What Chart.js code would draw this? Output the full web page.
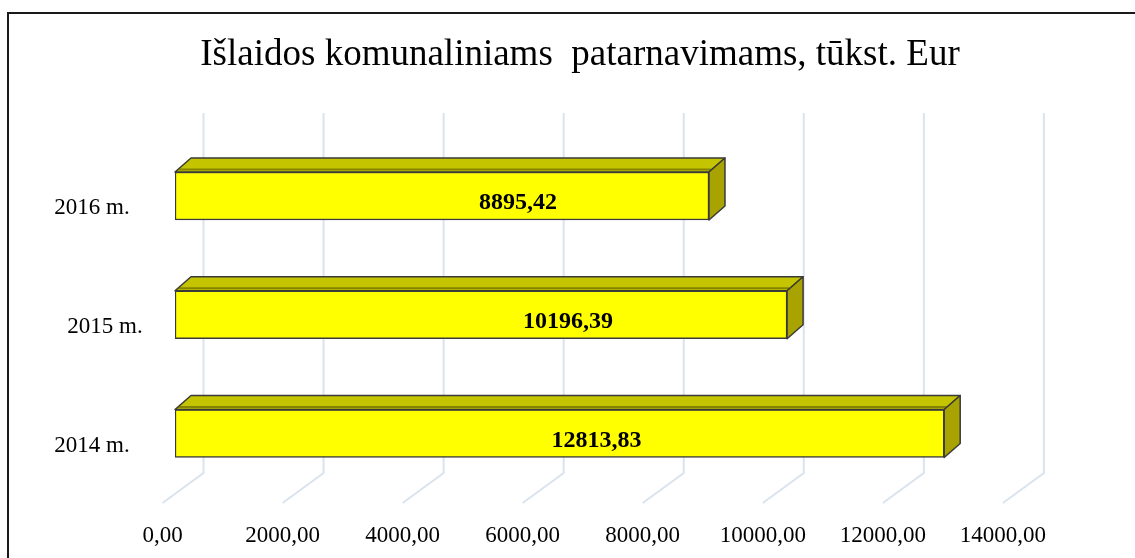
<!DOCTYPE html>
<html><head><meta charset="utf-8">
<script src="https://cdn.jsdelivr.net/npm/chart.js@4.4.0/dist/chart.umd.min.js"></script>
<style>html,body{margin:0;padding:0;background:#fff;overflow:hidden}#wrap{width:1135px;height:558px;position:relative}canvas{display:block}</style>
</head><body><div id="wrap"><canvas id="c" width="1135" height="558"></canvas></div>
<script>
// ---- data ----
const categories = ['2014 m.', '2015 m.', '2016 m.'];
const values = [12813.83, 10196.39, 8895.42];
const tickValues = [0, 2000, 4000, 6000, 8000, 10000, 12000, 14000];
const titleText = 'Išlaidos komunaliniams  patarnavimams, tūkst. Eur';

// ---- style ----
const SERIF = "'Times New Roman', 'Liberation Serif', serif";
const DEPTH_DX = 16, DEPTH_DY = 14;          // bar depth
const GRID_BACK = 28.5, GRID_FRONT = -12.5;  // floor back/front offsets
const GRID_TOP = 113, GRID_BEND = 473, GRID_BOTTOM = 503;
const labelDx = [37, 87, 76];     // data label shift per bar
const catDx = [0, 13, 0];         // category label shift

function fmt(v){ return v.toFixed(2).replace('.', ','); }

const deco = {
  id: 'deco',
  beforeDatasetsDraw(chart){
    const ctx = chart.ctx, xs = chart.scales.x;
    ctx.save();
    ctx.fillStyle = '#fff';
    ctx.fillRect(0,0,chart.width,chart.height);
    // frame
    ctx.strokeStyle = '#1a1a1a'; ctx.lineWidth = 2;
    ctx.beginPath();
    ctx.moveTo(8, chart.height + 5); ctx.lineTo(8, 13); ctx.lineTo(chart.width + 5, 13);
    ctx.stroke();
    // title
    ctx.fillStyle = '#000';
    ctx.font = '37px ' + SERIF;
    ctx.textAlign = 'center'; ctx.textBaseline = 'alphabetic';
    ctx.fillText(titleText, 580, 65);
    // gridlines
    ctx.strokeStyle = '#dae3ee'; ctx.lineWidth = 2;
    tickValues.forEach(v => {
      const x0 = xs.getPixelForValue(v);
      ctx.beginPath();
      ctx.moveTo(x0 + GRID_BACK, GRID_TOP);
      ctx.lineTo(x0 + GRID_BACK, GRID_BEND);
      ctx.lineTo(x0 + GRID_FRONT, GRID_BOTTOM);
      ctx.stroke();
    });
    // tick labels
    ctx.fillStyle = '#000';
    ctx.font = '23px ' + SERIF;
    ctx.textAlign = 'center'; ctx.textBaseline = 'middle';
    tickValues.forEach(v => {
      const x0 = xs.getPixelForValue(v);
      ctx.fillText(fmt(v), x0 + GRID_FRONT, 536);
    });
    ctx.restore();
  },
  afterDatasetsDraw(chart){
    const ctx = chart.ctx, ys = chart.scales.y;
    const meta = chart.getDatasetMeta(0);
    ctx.save();
    meta.data.forEach((bar, i) => {
      const p = bar.getProps(['x','y','base','height'], true);
      const L = p.base, R = p.x, T = p.y - p.height/2, B = p.y + p.height/2;
      ctx.lineJoin = 'round';
      // top face
      ctx.beginPath();
      ctx.moveTo(L, T); ctx.lineTo(L + DEPTH_DX, T - DEPTH_DY);
      ctx.lineTo(R + DEPTH_DX, T - DEPTH_DY); ctx.lineTo(R, T); ctx.closePath();
      ctx.fillStyle = '#c4c400'; ctx.fill();
      ctx.strokeStyle = '#3a3a3a'; ctx.lineWidth = 1.5; ctx.stroke();
      // shadow band near front edge
      ctx.beginPath();
      ctx.moveTo(L + 3, T - 2.5); ctx.lineTo(R + 2, T - 2.5);
      ctx.strokeStyle = 'rgba(90,90,0,0.6)'; ctx.lineWidth = 2; ctx.stroke();
      // side face
      ctx.beginPath();
      ctx.moveTo(R, T); ctx.lineTo(R + DEPTH_DX, T - DEPTH_DY);
      ctx.lineTo(R + DEPTH_DX, B - DEPTH_DY); ctx.lineTo(R, B); ctx.closePath();
      ctx.fillStyle = '#a8a300'; ctx.fill();
      ctx.strokeStyle = '#3a3a3a'; ctx.lineWidth = 1.5; ctx.stroke();
      // data label
      ctx.fillStyle = '#000';
      ctx.font = 'bold 24px ' + SERIF;
      ctx.textAlign = 'center'; ctx.textBaseline = 'middle';
      ctx.fillText(fmt(values[i]), (L + R)/2 + labelDx[i], p.y + 7);
      // category label
      ctx.font = '23px ' + SERIF;
      ctx.fillText(categories[i], 92 + catDx[i], ys.getPixelForValue(i) + 12);
    });
    ctx.restore();
  }
};

new Chart(document.getElementById('c'), {
  type: 'bar',
  data: {
    labels: categories,
    datasets: [{
      data: values,
      backgroundColor: '#ffff00',
      borderColor: '#3a3a3a',
      borderWidth: 1.5,
      borderSkipped: false,
      barThickness: 48
    }]
  },
  options: {
    indexAxis: 'y',
    responsive: false,
    animation: false,
    devicePixelRatio: 1,
    layout: { padding: { left: 175, right: 119.6, top: 136.6, bottom: 65.1 } },
    scales: {
      x: { type: 'linear', min: 0, max: 14000, display: false },
      y: { type: 'category', reverse: true, display: false, offset: true }
    },
    plugins: { legend: { display: false }, title: { display: false }, tooltip: { enabled: false } }
  },
  plugins: [deco]
});
</script>
</body></html>
